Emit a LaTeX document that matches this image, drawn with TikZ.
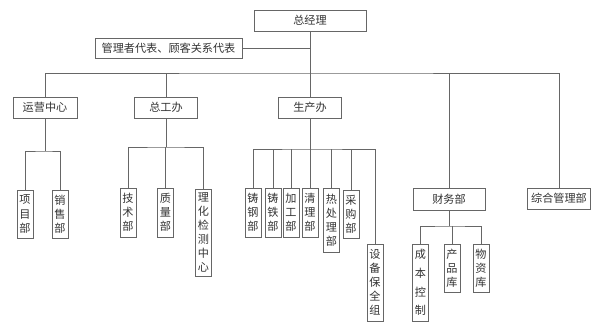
\documentclass[tikz,border=0pt]{standalone}
\usepackage{fontspec}
\setmainfont{Noto Sans CJK SC}
\begin{document}
\begin{tikzpicture}[
  x=0.03cm, y=-0.03cm,
  every node/.style={font=\fontsize{9.5pt}{12pt}\selectfont, text=black!80},
  hengkuang/.style={rectangle, draw=black!60, fill=white, inner sep=0pt, minimum height=0.63cm},
  shukuang/.style={rectangle, draw=black!60, fill=white, inner sep=0pt, minimum width=0.48cm, align=center},
  xian/.style={draw=black!60, line width=0.6pt}
]
\useasboundingbox (0,0) rectangle (600,328);
\node[hengkuang, minimum width=3.36cm] (zongjingli) at (310,20.5) {总经理};
\node[hengkuang, minimum width=4.41cm, minimum height=0.6cm] (daibiao) at (168.5,48) {管理者代表、顾客关系代表};
\node[hengkuang, minimum width=1.92cm] (yunying) at (45,107.5) {运营中心};
\node[hengkuang, minimum width=1.89cm] (zonggong) at (166,107.5) {总工办};
\node[hengkuang, minimum width=1.89cm] (shengchan) at (310,107.5) {生产办};
\node[hengkuang, minimum width=2.16cm, minimum height=0.66cm] (caiwu) at (449,199) {财务部};
\node[hengkuang, minimum width=1.89cm] (zonghe) at (559,198.5) {综合管理部};
\node[shukuang, minimum height=1.44cm] (xiangmu) at (25,214) {项\\目\\部};
\node[shukuang, minimum height=1.44cm] (xiaoshou) at (60,214) {销\\售\\部};
\node[shukuang, minimum height=1.47cm] (jishu) at (128,212.5) {技\\术\\部};
\node[shukuang, minimum height=1.47cm] (zhiliang) at (165.5,212.5) {质\\量\\部};
\node[shukuang, minimum height=2.61cm] (lihua) at (203.5,232.5) {理\\化\\检\\测\\中\\心};
\node[shukuang, minimum height=1.47cm] (zhugang) at (253,212.5) {铸\\钢\\部};
\node[shukuang, minimum height=1.47cm] (zhutie) at (273,212.5) {铸\\铁\\部};
\node[shukuang, minimum height=1.47cm] (jiagong) at (291,212.5) {加\\工\\部};
\node[shukuang, minimum height=1.47cm] (qingli) at (310,212.5) {清\\理\\部};
\node[shukuang, minimum height=1.92cm] (rechuli) at (331.5,220) {热\\处\\理\\部};
\node[shukuang, minimum height=1.44cm] (caigou) at (351,214) {采\\购\\部};
\node[shukuang, minimum height=2.31cm] (shebei) at (375,282.5) {设\\备\\保\\全\\组};
\node[shukuang, minimum height=2.31cm, font=\fontsize{9.5pt}{16pt}\selectfont] (chengben) at (420.5,282.5) {成\\本\\控\\制};
\node[shukuang, minimum height=1.44cm] (chanpin) at (452,268) {产\\品\\库};
\node[shukuang, minimum height=1.44cm] (wuzi) at (481,268) {物\\资\\库};
% top level
\coordinate (zongxian) at (310,73);
\draw[xian] (zongjingli) -- (shengchan);
\draw[xian] (daibiao) -- (daibiao -| zongjingli);
\draw[xian] (yunying) |- (zongxian) -| (zonghe);
\draw[xian] (zonggong) -- (zonggong |- zongxian);
\draw[xian] (caiwu) -- (caiwu |- zongxian);
% yunying
\coordinate (yyxian) at (45,151);
\draw[xian] (yunying) -- (yyxian);
\draw[xian] (xiangmu) |- (yyxian) -| (xiaoshou);
% zonggong
\coordinate (zgxian) at (166,147);
\draw[xian] (zonggong) -- (zgxian);
\draw[xian] (jishu) |- (zgxian) -| (lihua);
\draw[xian] (zhiliang) -- (zhiliang |- zgxian);
% shengchan
\coordinate (scxian) at (310,149);
\draw[xian] (shengchan) -- (qingli);
\draw[xian] (zhugang) |- (scxian) -| (shebei);
\draw[xian] (zhutie) -- (zhutie |- scxian);
\draw[xian] (jiagong) -- (jiagong |- scxian);
\draw[xian] (rechuli) -- (rechuli |- scxian);
\draw[xian] (caigou) -- (caigou |- scxian);
% caiwu
\coordinate (cwxian) at (449,226);
\draw[xian] (caiwu) -- (cwxian);
\draw[xian] (chengben) |- (cwxian) -| (wuzi);
\draw[xian] (chanpin) -- (chanpin |- cwxian);
\end{tikzpicture}
\end{document}
